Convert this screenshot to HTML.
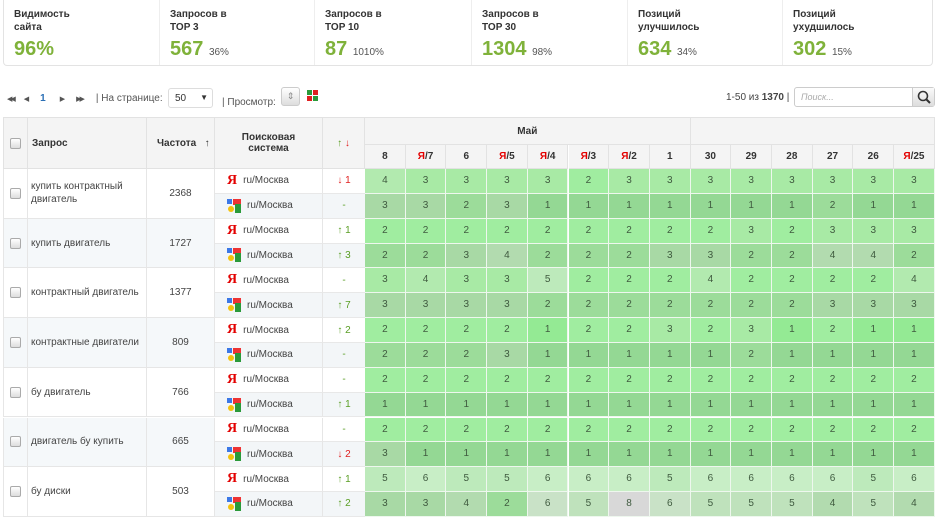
<!DOCTYPE html>
<html><head><meta charset="utf-8">
<style>
*{box-sizing:border-box;margin:0;padding:0}
body{width:935px;height:517px;overflow:hidden;background:#fff;font-family:"Liberation Sans","DejaVu Sans",sans-serif;color:#333;position:relative;font-size:10px}
.abs{position:absolute}
.stats{position:absolute;left:3px;top:0;width:930px;height:66px;border:1px solid #e3e3e3;border-top:none;border-radius:0 0 4px 4px}
.stat{position:absolute;top:0;height:65px;border-left:1px solid #eee;padding:8px 0 0 10px}
.stat .lbl{font-weight:bold;font-size:10px;line-height:13px;color:#333}
.stat .val{font-size:20px;font-weight:bold;color:#7fb23a;margin-top:4px}
.stat .pct{font-size:10px;color:#555;font-weight:normal}
.hd{position:absolute;background:#f4f4f4;border-right:1px solid #e2e2e2;border-bottom:1px solid #e2e2e2;font-weight:bold;font-size:10px;color:#333;display:flex;align-items:center}
.cell{position:absolute;display:flex;align-items:center;font-size:10px;color:#444}
.cb{width:11px;height:11px;border:1px solid #aaa;border-radius:2px;background:linear-gradient(#fff,#ddd)}
.dc{position:absolute;border-right:1px solid #eef7ee;border-bottom:1px solid #eef7ee;text-align:center;font-size:10px;color:#3f5a3f}
.ya{color:#e30000;font-weight:bold;font-size:14px;font-family:"Liberation Serif",serif}
.red{color:#e02020}.grn{color:#5a9e24}
</style></head><body>

<div class="stats">
  <div class="stat" style="left:0;width:155px;border-left:none"><div class="lbl">Видимость<br>сайта</div><div class="val">96%</div></div>
  <div class="stat" style="left:155px;width:155px"><div class="lbl">Запросов в<br>TOP 3</div><div class="val">567 <span class="pct">36%</span></div></div>
  <div class="stat" style="left:310px;width:157px"><div class="lbl">Запросов в<br>TOP 10</div><div class="val">87 <span class="pct">1010%</span></div></div>
  <div class="stat" style="left:467px;width:156px"><div class="lbl">Запросов в<br>TOP 30</div><div class="val">1304 <span class="pct">98%</span></div></div>
  <div class="stat" style="left:623px;width:155px"><div class="lbl">Позиций<br>улучшилось</div><div class="val">634 <span class="pct">34%</span></div></div>
  <div class="stat" style="left:778px;width:152px"><div class="lbl">Позиций<br>ухудшилось</div><div class="val">302 <span class="pct">15%</span></div></div>
</div>

<div class="abs" style="left:7px;top:93px;font-size:10px;color:#555;display:flex;align-items:center;white-space:nowrap">
  <span style="font-size:7px;letter-spacing:-2px">◀◀</span>
  <span style="font-size:7px;margin-left:10px">◀</span>
  <span style="color:#2a6fb5;font-weight:bold;margin-left:11px">1</span>
  <span style="font-size:7px;margin-left:14px">▶</span>
  <span style="font-size:7px;margin-left:11px;letter-spacing:-2px">▶▶</span>
  <span style="margin-left:13px">| На странице:</span>
</div>
<div class="abs" style="left:168px;top:88px;width:45px;height:20px;border:1px solid #ddd;border-radius:3px;background:#fff;font-size:10px;padding:4px 6px">50<span style="position:absolute;right:4px;top:4px;font-size:8px;color:#333">▼</span></div>
<div class="abs" style="left:222px;top:97px;font-size:10px;color:#555">| Просмотр:</div>
<div class="abs" style="left:281px;top:87px;width:19px;height:19px;border:1px solid #ccc;border-radius:3px;background:linear-gradient(#fff,#ddd);font-size:9px;text-align:center;line-height:17px;color:#888">⇕</div>
<div class="abs" style="left:306px;top:89px;width:14px;height:14px">
  <div class="abs" style="left:1px;top:1px;width:5px;height:5px;background:#2a9a3a"></div><div class="abs" style="left:7px;top:1px;width:5px;height:5px;background:#e02020"></div>
  <div class="abs" style="left:1px;top:7px;width:5px;height:5px;background:#e02020"></div><div class="abs" style="left:7px;top:7px;width:5px;height:5px;background:#2a9a3a"></div>
</div>
<div class="abs" style="left:726px;top:92px;font-size:10px;color:#444">1-50 из <b>1370</b> |</div>
<div class="abs" style="left:794px;top:87px;width:141px;height:20px;border:1px solid #ccc;border-radius:3px;background:#fff">
  <span class="abs" style="left:6px;top:4px;font-size:9px;font-style:italic;color:#aaa">Поиск...</span>
  <div class="abs" style="right:0;top:0;width:22px;height:18px;background:linear-gradient(#fafafa,#ddd);border-left:1px solid #ccc"><svg width="22" height="18"><circle cx="10" cy="8" r="4.5" fill="none" stroke="#333" stroke-width="1.6"/><line x1="13" y1="11" x2="17" y2="15" stroke="#333" stroke-width="2"/></svg></div>
</div>

<div id="tbl"></div>

<script>
const days=["8","Я/7","6","Я/5","Я/4","Я/3","Я/2","1","30","29","28","27","26","Я/25"];
const queries=["купить контрактный двигатель","купить двигатель","контрактный двигатель","контрактные двигатели","бу двигатель","двигатель бу купить","бу диски"];
const freqs=[2368,1727,1377,809,766,665,503];
const changes=[["↓ 1","-"],["↑ 1","↑ 3"],["-","↑ 7"],["↑ 2","-"],["-","↑ 1"],["-","↓ 2"],["↑ 1","↑ 2"]];
const positions=[
[4,3,3,3,3,2,3,3,3,3,3,3,3,3],
[3,3,2,3,1,1,1,1,1,1,1,2,1,1],
[2,2,2,2,2,2,2,2,2,3,2,3,3,3],
[2,2,3,4,2,2,2,3,3,2,2,4,4,2],
[3,4,3,3,5,2,2,2,4,2,2,2,2,4],
[3,3,3,3,2,2,2,2,2,2,2,3,3,3],
[2,2,2,2,1,2,2,3,2,3,1,2,1,1],
[2,2,2,3,1,1,1,1,1,2,1,1,1,1],
[2,2,2,2,2,2,2,2,2,2,2,2,2,2],
[1,1,1,1,1,1,1,1,1,1,1,1,1,1],
[2,2,2,2,2,2,2,2,2,2,2,2,2,2],
[3,1,1,1,1,1,1,1,1,1,1,1,1,1],
[5,6,5,5,6,6,6,5,6,6,6,6,5,6],
[3,3,4,2,6,5,8,6,5,5,5,4,5,4]];
const yaCol={1:"#94ea94",2:"#a0eda0",3:"#a8eaa5",4:"#b2eaaf",5:"#bdeabb",6:"#c8eec6",8:"#dadada"};
const goCol={1:"#94d894",2:"#9cdc9a",3:"#a8d9a5",4:"#b2dbaf",5:"#bfe2bc",6:"#c9e2c7",8:"#d8d8d8"};
const T=document.getElementById('tbl');
function add(html){const d=document.createElement('div');d.innerHTML=html;const e=d.firstElementChild;T.appendChild(e);return e;}
const top0=117, hdrH=52, rowH=24.85, dx0=365, dw=40.7;
let e;
e=add(`<div class="hd" style="left:3px;top:${top0}px;width:25px;height:${hdrH}px;justify-content:center;border-left:1px solid #e2e2e2;border-top:1px solid #e2e2e2"><div class="cb"></div></div>`);

e=add(`<div class="hd" style="left:28px;top:${top0}px;width:119px;height:${hdrH}px;padding-left:4px;border-top:1px solid #e2e2e2">Запрос</div>`);

e=add(`<div class="hd" style="left:147px;top:${top0}px;width:68px;height:${hdrH}px;padding-left:10px;border-top:1px solid #e2e2e2;white-space:nowrap">Частота&nbsp;&nbsp;&nbsp;↑</div>`);

e=add(`<div class="hd" style="left:215px;top:${top0}px;width:108px;height:${hdrH}px;justify-content:center;text-align:center;border-top:1px solid #e2e2e2">Поисковая<br>система</div>`);

e=add(`<div class="hd" style="left:323px;top:${top0}px;width:42px;height:${hdrH}px;justify-content:center;border-top:1px solid #e2e2e2"><span class="grn">↑</span>&nbsp;<span class="red">↓</span></div>`);

e=add(`<div class="hd" style="left:${dx0}px;top:${top0}px;width:${dw*8}px;height:28px;justify-content:center;border-top:1px solid #e2e2e2">Май</div>`);

e=add(`<div class="hd" style="left:${dx0+dw*8}px;top:${top0}px;width:${935-dx0-dw*8}px;height:28px;border-top:1px solid #e2e2e2"></div>`);

days.forEach((d,i)=>{
  const lbl=d.startsWith("Я/")?`<span style="color:#e30000">Я</span>/${d.slice(2)}`:d;
  const h=add(`<div class="hd" style="left:${dx0+i*dw}px;top:${top0+28}px;width:${dw}px;height:${hdrH-28}px;justify-content:center">${lbl}</div>`);
  
  
});
const y0=top0+hdrH;
const yaIcon='<span class="ya">Я</span>';
const goIcon='<svg width="14" height="14" style="vertical-align:middle"><rect x="0" y="0" width="5" height="5" fill="#3b78e7"/><rect x="6" y="0" width="8" height="6" fill="#e33"/><rect x="8" y="5" width="6" height="9" fill="#2a9a3a"/><circle cx="4" cy="10" r="3" fill="#f4c20d"/></svg>';
queries.forEach((q,g)=>{
  const gy=y0+g*2*rowH, bg=g%2?"#f5f8fa":"#fff";
  let c=add(`<div class="cell" style="left:3px;top:${gy}px;width:25px;height:${2*rowH}px;justify-content:center;background:${bg};border-left:1px solid #e6e6e6;border-right:1px solid #e6e6e6;border-bottom:1px solid #e6e6e6"><div class="cb"></div></div>`);
  
  c=add(`<div class="cell" style="left:28px;top:${gy}px;width:119px;height:${2*rowH}px;padding-left:3px;padding-right:4px;background:${bg};border-right:1px solid #e6e6e6;border-bottom:1px solid #e6e6e6;line-height:13px">${q}</div>`);
  
  c=add(`<div class="cell" style="left:147px;top:${gy}px;width:68px;height:${2*rowH}px;justify-content:center;background:${bg};border-right:1px solid #e6e6e6;border-bottom:1px solid #e6e6e6">${freqs[g]}</div>`);
  
  [0,1].forEach(k=>{
    const ry=gy+k*rowH, ebg=k?"#f3f6f8":"#fff";
    let r=add(`<div class="cell" style="left:215px;top:${ry}px;width:108px;height:${rowH}px;padding-left:12px;gap:6px;background:${ebg};border-right:1px solid #e6e6e6;border-bottom:1px solid #e8e8e8">${k?goIcon:yaIcon}<span>ru/Москва</span></div>`);
    
    const ch=changes[g][k], cls=ch.startsWith("↓")?"red":"grn";
    r=add(`<div class="cell ${cls}" style="left:323px;top:${ry}px;width:42px;height:${rowH}px;justify-content:center;background:${ebg};border-bottom:1px solid #e8e8e8">${ch.replace(" ","&nbsp;")}</div>`);
    
    positions[g*2+k].forEach((v,i)=>{
      const col=(k?goCol:yaCol)[v]||"#ddd";
      const d=add(`<div class="dc" style="left:${dx0+i*dw}px;top:${ry}px;width:${dw}px;height:${rowH}px;line-height:${rowH}px;background:${col}">${v}</div>`);
      
      
    });
  });
});
</script>
</body></html>
